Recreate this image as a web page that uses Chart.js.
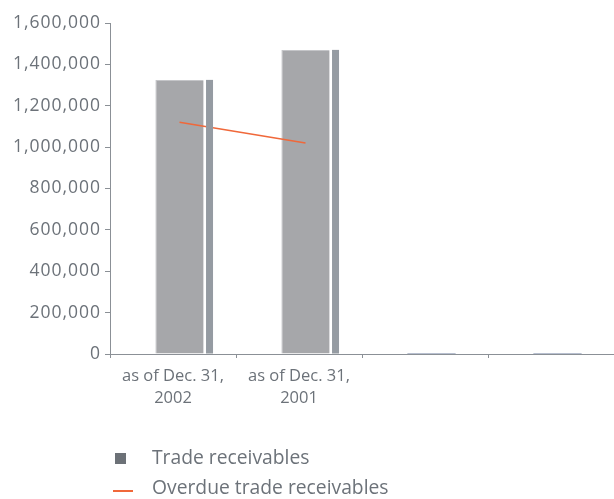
<!DOCTYPE html>
<html>
<head>
<meta charset="utf-8">
<script src="https://cdn.jsdelivr.net/npm/chart.js@4/dist/chart.umd.min.js"></script>
<style>
  html, body { margin: 0; padding: 0; background: #ffffff; }
  #wrap { position: relative; width: 614px; height: 499px; overflow: hidden; }
  #chartBox { position: absolute; left: 0; top: 0; width: 614px; height: 499px; }
  .legend-item { position: absolute; left: 152px; font-family: "Open Sans", sans-serif;
                 font-size: 19.3px; line-height: 19px; color: #6c7279; white-space: nowrap; }
  .legend-mark { position: absolute; }
</style>
</head>
<body>
<div id="wrap">
  <div id="chartBox"><canvas id="chart"></canvas></div>
  <div class="legend-mark" id="markBar" style="left:115px; top:453px; width:11px; height:11px; background:#6c7177;"></div>
  <div class="legend-item" id="labelBar" style="top:447px;"></div>
  <div class="legend-mark" id="markLine" style="left:113px; top:490px; width:20px; height:1.6px; background:#f0683a;"></div>
  <div class="legend-item" id="labelLine" style="top:476.5px;"></div>
</div>
<script>
// Categories along the x axis (two reporting dates, two empty slots)
const categories = [['as of Dec. 31,', '2002'], ['as of Dec. 31,', '2001'], '', ''];

// Series
const seriesNames = ['Trade receivables', 'Overdue trade receivables'];
const tradeReceivables = [1325000, 1470000, 0, 0];
const overdueReceivables = [1120000, 1020000, null, null];

// Value axis ticks
const yTicks = [0, 200000, 400000, 600000, 800000, 1000000, 1200000, 1400000, 1600000];

const TEXT = '#6c7279';
const AXIS = '#8b9096';
const BAR = '#a6a7aa';
const BAR_SIDE = '#959ba2';
const BAR_EMPTY = '#70809f';
const LINE = '#f0683a';

document.getElementById('labelBar').textContent = seriesNames[0];
document.getElementById('labelLine').textContent = seriesNames[1];

// Marks sit a few pixels right of the category centre, with a narrow shaded side face
const barDepth = {
  id: 'barDepth',
  beforeDatasetsDraw(chart) {
    chart.ctx.save();
    chart.ctx.translate(6.5, 0);
  },
  afterDatasetsDraw(chart) {
    const ctx = chart.ctx;
    const meta = chart.getDatasetMeta(1);
    meta.data.forEach((bar, i) => {
      if (!tradeReceivables[i]) return;
      const right = bar.x + bar.width / 2;
      ctx.fillStyle = BAR_SIDE;
      ctx.fillRect(right + 2.4, bar.y, 7, bar.base - bar.y);
    });
    ctx.restore();
  },
  // wider tracking on the value-axis labels
  beforeDraw(chart) {
    const s = chart.scales.y;
    if (s && !s._tracked) {
      const orig = s.drawLabels.bind(s);
      s.drawLabels = function (area) {
        const c = this.ctx;
        c.save();
        c.letterSpacing = '1px';
        orig(area);
        c.restore();
      };
      s._tracked = true;
    }
  }
};

new Chart(document.getElementById('chart'), {
  data: {
    labels: categories,
    datasets: [
      {
        type: 'line',
        label: seriesNames[1],
        data: overdueReceivables,
        borderColor: LINE,
        borderWidth: 1.6,
        pointRadius: 0,
        pointHoverRadius: 0,
        fill: false,
        tension: 0,
        order: 0
      },
      {
        type: 'bar',
        label: seriesNames[0],
        data: tradeReceivables,
        backgroundColor: tradeReceivables.map(v => v ? BAR : BAR_EMPTY),
        borderColor: '#c4c5c8',
        borderWidth: tradeReceivables.map(v => v ? { top: 1, left: 1, right: 0, bottom: 0 } : 0),
        borderSkipped: 'bottom',
        minBarLength: 1,
        categoryPercentage: 1,
        barPercentage: 0.383,
        order: 1
      }
    ]
  },
  options: {
    responsive: true,
    maintainAspectRatio: false,
    animation: false,
    events: [],
    layout: { padding: { left: 0, right: -4, top: 23, bottom: 85 } },
    plugins: {
      legend: { display: false },
      tooltip: { enabled: false }
    },
    scales: {
      x: {
        grid: { display: true, drawOnChartArea: false, drawTicks: true, tickLength: 4, color: AXIS, lineWidth: 1, offset: true },
        border: { display: true, color: AXIS, width: 1 },
        ticks: {
          color: TEXT,
          font: { family: '"Open Sans", sans-serif', size: 16.5, lineHeight: 1.3 },
          padding: 8,
          maxRotation: 0,
          autoSkip: false
        },
        afterFit(scale) { scale.height = 60; }
      },
      y: {
        min: 0,
        max: 1600000,
        afterBuildTicks(scale) { scale.ticks = yTicks.map(v => ({ value: v })); },
        grid: { display: true, drawOnChartArea: false, drawTicks: true, tickLength: 5, color: AXIS, lineWidth: 1 },
        border: { display: true, color: AXIS, width: 1 },
        ticks: {
          color: TEXT,
          font: { family: '"Open Sans", sans-serif', size: 17.5 },
          padding: 4,
          callback: v => v.toLocaleString('en-US')
        },
        afterFit(scale) { scale.width = 110; }
      }
    }
  },
  plugins: [barDepth]
});
</script>
</body>
</html>
